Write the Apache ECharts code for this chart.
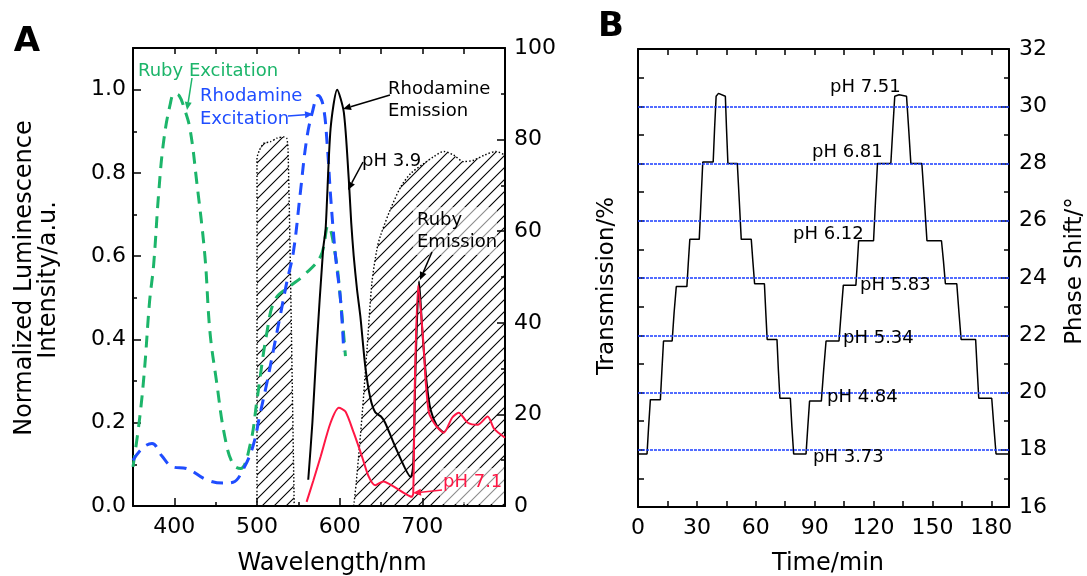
<!DOCTYPE html>
<html>
<head>
<meta charset="utf-8">
<title>Spectra and phase shift</title>
<script src="https://cdn.jsdelivr.net/npm/echarts@6/dist/echarts.min.js"></script>
<style>
  html, body { margin: 0; padding: 0; background: #fff; }
  #chart { width: 1087px; height: 576px; }
</style>
</head>
<body>
<div id="chart"></div>
<script>
// ---- panel A: spectra (left axis 0..1.1, right axis transmission 0..100) ----
var rubyExWl  = [350, 358, 364, 370, 375, 381, 387, 395, 400, 406, 412, 419, 427, 437, 443, 451, 461, 471, 480, 492, 500, 512, 522, 540, 556, 577, 586, 595, 601, 607];
var rubyExVal = [0.094, 0.21, 0.33, 0.49, 0.58, 0.75, 0.875, 0.965, 0.99, 0.985, 0.955, 0.905, 0.78, 0.6, 0.42, 0.3, 0.167, 0.1, 0.09, 0.15, 0.255, 0.417, 0.496, 0.528, 0.553, 0.6, 0.673, 0.6, 0.496, 0.36];

var rhoExWl  = [350, 362, 373, 385, 398, 415, 439, 459, 471, 483, 495, 504, 512, 520, 528, 536, 544, 552, 560, 567, 574, 580, 585, 589, 595, 601, 605];
var rhoExVal = [0.11, 0.14, 0.15, 0.12, 0.094, 0.09, 0.063, 0.055, 0.057, 0.087, 0.143, 0.224, 0.296, 0.376, 0.456, 0.537, 0.61, 0.745, 0.88, 0.946, 0.986, 0.962, 0.866, 0.745, 0.6, 0.496, 0.37];

var emAcidWl  = [562, 567, 572, 580, 583, 589, 597, 605, 611, 614, 617, 621, 625, 631, 637, 643, 650, 655, 670, 686, 689, 692, 696, 700, 705, 710, 718, 726];
var emAcidVal = [0.063, 0.2, 0.376, 0.617, 0.665, 0.906, 1.0, 0.946, 0.785, 0.68, 0.6, 0.52, 0.456, 0.335, 0.26, 0.225, 0.215, 0.2, 0.13, 0.07, 0.1, 0.35, 0.54, 0.42, 0.3, 0.231, 0.191, 0.176];

var emBaseWl  = [560, 568, 577, 589, 599, 607, 617, 627, 635, 643, 653, 665, 678, 687, 689, 691, 695, 699, 702, 704, 708, 714, 720, 726, 736, 744, 755, 767, 779, 787, 800];
var emBaseVal = [0.01, 0.06, 0.119, 0.2, 0.236, 0.227, 0.176, 0.119, 0.071, 0.05, 0.059, 0.047, 0.031, 0.022, 0.03, 0.3, 0.53, 0.45, 0.37, 0.3, 0.224, 0.2, 0.185, 0.176, 0.212, 0.224, 0.2, 0.195, 0.215, 0.185, 0.164];

var filter1Wl = [500, 500, 503, 508, 516, 524, 532, 536, 537.5, 540, 545];
var filter1T  = [0, 76, 77.7, 79.2, 79.5, 80.3, 80.6, 80.3, 78, 56, 0];

var filter2Wl = [617, 620, 627, 633, 639, 645, 649, 661, 674, 686, 702, 714, 726, 738, 750, 762, 775, 789, 800];
var filter2T  = [0, 5, 19.5, 34, 48.7, 56, 58.8, 64.6, 69.7, 72.6, 74.8, 76.3, 77.4, 76.6, 75.2, 75.5, 76.6, 77.4, 76.6];

// ---- panel B: phase shift steps over time ----
var phaseTime = [
  0, 4.6, 5.4, 6.3,  11.4, 12.2, 13.0,  17.4, 18.4, 19.5,  24.9, 25.6, 26.4,
  31.2, 32.1, 33.0,  38.3, 39.0, 39.8, 41.0,  44.5, 45.1, 45.8,  50.6, 51.6, 52.6,
  57.7, 58.5, 59.4,  64.4, 65.1, 65.8,  70.8, 71.5, 72.3,  77.6, 78.4, 79.3,
  85.6, 86.5, 87.4,  93.4, 94.6, 95.8,  102.4, 103.5, 104.6,  111.0, 111.7, 112.4,
  120.0, 121.0, 122.0,  128.8, 129.8, 130.8, 133.0,  136.8, 137.9, 139.0,
  144.6, 145.9, 147.2,  154.6, 155.6, 156.6,  162.4, 163.5, 164.6,
  172.0, 172.8, 173.6,  180.2, 181.3, 182.4,  189
];
var phaseValue = [
  17.85, 17.85, 18.8, 19.75,  19.75, 20.8, 21.8,  21.8, 22.8, 23.7,  23.7, 24.5, 25.35,
  25.35, 26.7, 28.05,  28.05, 29.2, 30.35, 30.45,  30.35, 29.2, 28.0,  28.0, 26.7, 25.35,
  25.35, 24.6, 23.8,  23.8, 22.8, 21.85,  21.85, 20.8, 19.8,  19.8, 18.8, 17.85,
  17.85, 18.8, 19.7,  19.7, 20.8, 21.8,  21.8, 22.8, 23.75,  23.75, 24.5, 25.3,
  25.3, 26.7, 28.0,  28.0, 29.2, 30.35, 30.4,  30.35, 29.2, 28.0,
  28.0, 26.7, 25.3,  25.3, 24.6, 23.8,  23.8, 22.8, 21.85,
  21.85, 20.8, 19.8,  19.8, 18.8, 17.85,  17.85
];
var phRefLines = [18, 20, 22, 24, 26, 28, 30];

// tick / label values
var wlLabels = [400, 500, 600, 700];
var wlMinor = [450, 550, 650, 750];
var wlTop = [400, 450, 500, 550, 600, 650, 700, 750];
var intMajor = [0, 0.2, 0.4, 0.6, 0.8, 1.0];
var intMinor = [0.1, 0.3, 0.5, 0.7, 0.9];
var timeLabels = [0, 30, 60, 90, 120, 150, 180];
var timeTicks = [15, 30, 45, 60, 75, 90, 105, 120, 135, 150, 165, 180];
var transTicks = [17, 18, 19, 20, 21, 22, 23, 24, 25, 26, 27, 28, 29, 30, 31];

var FONT = '"DejaVu Sans", sans-serif';
var GREEN = '#1cb56a', BLUE = '#1f4dff', RED = '#ff1744';

function pairs(xs, ys) {
  return xs.map(function (x, i) { return [x, ys[i]]; });
}

// diagonal hatching for the filter transmission areas
function hatch() {
  var s = 12;
  var c = document.createElement('canvas');
  c.width = s; c.height = s;
  var ctx = c.getContext('2d');
  ctx.strokeStyle = '#000';
  ctx.lineWidth = 1.1;
  ctx.beginPath();
  ctx.moveTo(0, s); ctx.lineTo(s, 0);
  ctx.moveTo(-s / 2, s / 2); ctx.lineTo(s / 2, -s / 2);
  ctx.moveTo(s / 2, s * 1.5); ctx.lineTo(s * 1.5, s / 2);
  ctx.stroke();
  return c;
}
var hatchImg = hatch();

function arrow(x1, y1, x2, y2, color) {
  var a = Math.atan2(y2 - y1, x2 - x1), L = 8, W = 3.5;
  var bx = x2 - L * Math.cos(a), by = y2 - L * Math.sin(a);
  var px = -Math.sin(a) * W, py = Math.cos(a) * W;
  return [
    { type: 'line', z: 20, shape: { x1: x1, y1: y1, x2: bx, y2: by }, style: { stroke: color, lineWidth: 1.5 } },
    { type: 'polygon', z: 20, shape: { points: [[x2, y2], [bx + px, by + py], [bx - px, by - py]] }, style: { fill: color } }
  ];
}

function txt(x, y, s, color, size, opt) {
  opt = opt || {};
  return {
    type: 'text', z: 21, x: x, y: y, rotation: opt.rot || 0,
    style: {
      text: s, fill: color, fontSize: size, fontFamily: FONT,
      fontWeight: opt.bold ? 'bold' : 'normal',
      align: opt.align || 'left', verticalAlign: 'middle'
    }
  };
}

var lineAx = { show: true, onZero: false, lineStyle: { color: '#000', width: 2 } };

function axis(extra) {
  var base = {
    type: 'value', splitLine: { show: false }, axisLine: lineAx,
    axisTick: { inside: true, length: 7, lineStyle: { color: '#000', width: 1.5 } },
    axisLabel: { show: false }
  };
  for (var k in extra) base[k] = extra[k];
  return base;
}

var myChart = echarts.init(document.getElementById('chart'));

var option = {
  animation: false,
  backgroundColor: '#fff',
  grid: [
    { left: 133, top: 48, width: 372, height: 458 },
    { left: 638, top: 49, width: 371, height: 458 }
  ],
  xAxis: [
    axis({ gridIndex: 0, position: 'bottom', min: 350, max: 800,
      axisTick: { inside: true, length: 8, customValues: wlLabels, lineStyle: { color: '#000', width: 1.5 } },
      axisLabel: { show: true, customValues: wlLabels, margin: 10, color: '#000', fontSize: 22, fontFamily: FONT } }),
    axis({ gridIndex: 0, position: 'bottom', min: 350, max: 800, axisLine: { show: false },
      axisTick: { inside: true, length: 4, customValues: wlMinor, lineStyle: { color: '#000', width: 1.5 } } }),
    axis({ gridIndex: 0, position: 'top', min: 350, max: 800,
      axisTick: { inside: true, length: 6, customValues: wlTop, lineStyle: { color: '#000', width: 1.5 } } }),
    axis({ gridIndex: 1, position: 'bottom', min: 0, max: 189,
      axisTick: { inside: true, length: 6, customValues: timeTicks, lineStyle: { color: '#000', width: 1.5 } },
      axisLabel: { show: true, customValues: timeLabels, margin: 10, color: '#000', fontSize: 22, fontFamily: FONT } }),
    axis({ gridIndex: 1, position: 'top', min: 0, max: 189,
      axisTick: { inside: true, length: 6, customValues: timeTicks, lineStyle: { color: '#000', width: 1.5 } } })
  ],
  yAxis: [
    axis({ gridIndex: 0, position: 'left', min: 0, max: 1.1,
      axisTick: { inside: true, length: 8, customValues: intMajor, lineStyle: { color: '#000', width: 1.5 } },
      axisLabel: { show: true, customValues: intMajor, margin: 7, color: '#000', fontSize: 22, fontFamily: FONT,
        formatter: function (v) { return v.toFixed(1); } } }),
    axis({ gridIndex: 0, position: 'left', min: 0, max: 1.1, axisLine: { show: false },
      axisTick: { inside: true, length: 4, customValues: intMinor, lineStyle: { color: '#000', width: 1.5 } } }),
    axis({ gridIndex: 0, position: 'right', min: 0, max: 100, interval: 20,
      axisTick: { inside: true, length: 8, lineStyle: { color: '#000', width: 1.5 } },
      minorTick: { show: true, splitNumber: 2, length: 4, lineStyle: { color: '#000', width: 1.5 } },
      axisLabel: { show: true, margin: 9, color: '#000', fontSize: 22, fontFamily: FONT } }),
    axis({ gridIndex: 1, position: 'left', min: 16, max: 32,
      axisTick: { inside: true, length: 6, customValues: transTicks, lineStyle: { color: '#000', width: 1.5 } } }),
    axis({ gridIndex: 1, position: 'right', min: 16, max: 32, interval: 2,
      axisTick: { inside: true, length: 8, lineStyle: { color: '#000', width: 1.5 } },
      minorTick: { show: true, splitNumber: 2, length: 5, lineStyle: { color: '#000', width: 1.5 } },
      axisLabel: { show: true, margin: 10, color: '#000', fontSize: 22, fontFamily: FONT } })
  ],
  series: [
    {
      name: 'filter 1', type: 'line', xAxisIndex: 0, yAxisIndex: 2, z: 1, smooth: 0.2,
      data: pairs(filter1Wl, filter1T), showSymbol: false, silent: true,
      lineStyle: { color: '#000', width: 1.4, type: [1.5, 2] },
      areaStyle: { color: { image: hatchImg, repeat: 'repeat' }, opacity: 1 }
    },
    {
      name: 'filter 2', type: 'line', xAxisIndex: 0, yAxisIndex: 2, z: 1, smooth: 0.3,
      data: pairs(filter2Wl, filter2T), showSymbol: false, silent: true,
      lineStyle: { color: '#000', width: 1.4, type: [1.5, 2] },
      areaStyle: { color: { image: hatchImg, repeat: 'repeat' }, opacity: 1 }
    },
    {
      name: 'Ruby Excitation', type: 'line', xAxisIndex: 0, yAxisIndex: 0, smooth: 0.4,
      data: pairs(rubyExWl, rubyExVal), showSymbol: false,
      lineStyle: { color: GREEN, width: 3, type: [12, 8] }
    },
    {
      name: 'Rhodamine Excitation', type: 'line', xAxisIndex: 0, yAxisIndex: 0, smooth: 0.4,
      data: pairs(rhoExWl, rhoExVal), showSymbol: false,
      lineStyle: { color: BLUE, width: 3, type: [12, 8] }
    },
    {
      name: 'pH 3.9', type: 'line', xAxisIndex: 0, yAxisIndex: 0, smooth: 0.25,
      data: pairs(emAcidWl, emAcidVal), showSymbol: false,
      lineStyle: { color: '#000', width: 2 }
    },
    {
      name: 'pH 7.1', type: 'line', xAxisIndex: 0, yAxisIndex: 0, smooth: 0.25,
      data: pairs(emBaseWl, emBaseVal), showSymbol: false,
      lineStyle: { color: RED, width: 2 }
    },
    {
      name: 'phase', type: 'line', xAxisIndex: 3, yAxisIndex: 4,
      data: pairs(phaseTime, phaseValue), showSymbol: false,
      lineStyle: { color: '#000', width: 1.5 },
      markLine: {
        silent: true, symbol: 'none', label: { show: false },
        lineStyle: { color: '#1a3cff', width: 1.5, type: [3, 1] },
        data: phRefLines.map(function (v) { return { yAxis: v }; })
      }
    }
  ],
  graphic: [].concat(
    [
      txt(27, 42, 'A', '#000', 34, { bold: true, align: 'center' }),
      txt(611, 27, 'B', '#000', 34, { bold: true, align: 'center' }),
      txt(25, 278, 'Normalized Luminescence', '#000', 24, { rot: Math.PI / 2, align: 'center' }),
      txt(49, 280, 'Intensity/a.u.', '#000', 24, { rot: Math.PI / 2, align: 'center' }),
      txt(332, 564, 'Wavelength/nm', '#000', 24, { align: 'center' }),
      txt(607, 286, 'Transmission/%', '#000', 23, { rot: Math.PI / 2, align: 'center' }),
      txt(1075, 271, 'Phase Shift/°', '#000', 23, { rot: Math.PI / 2, align: 'center' }),
      txt(828, 564, 'Time/min', '#000', 24, { align: 'center' }),
      { type: 'rect', z: 5, shape: { x: 413, y: 207, width: 84, height: 48 }, style: { fill: 'rgba(255,255,255,0.55)' } },
      { type: 'rect', z: 5, shape: { x: 440, y: 468, width: 64, height: 36 }, style: { fill: 'rgba(255,255,255,0.55)' } },
      txt(138, 71, 'Ruby Excitation', GREEN, 18),
      txt(200, 96, 'Rhodamine', BLUE, 18),
      txt(200, 119, 'Excitation', BLUE, 18),
      txt(388, 89, 'Rhodamine', '#000', 18),
      txt(388, 111, 'Emission', '#000', 18),
      txt(362, 161, 'pH 3.9', '#000', 18),
      txt(417, 220, 'Ruby', '#000', 18),
      txt(417, 242, 'Emission', '#000', 18),
      txt(443, 482, 'pH 7.1', RED, 18),
      txt(830, 87, 'pH 7.51', '#000', 18),
      txt(812, 152, 'pH 6.81', '#000', 18),
      txt(793, 234, 'pH 6.12', '#000', 18),
      txt(860, 285, 'pH 5.83', '#000', 18),
      txt(843, 338, 'pH 5.34', '#000', 18),
      txt(827, 397, 'pH 4.84', '#000', 18),
      txt(813, 457, 'pH 3.73', '#000', 18)
    ],
    arrow(192, 78, 187, 110, GREEN),
    arrow(288, 116, 313, 114, BLUE),
    arrow(390, 95, 343, 109, '#000'),
    arrow(363, 162, 348, 190, '#000'),
    arrow(432, 252, 420, 280, '#000'),
    arrow(442, 490, 413, 493, RED)
  )
};

myChart.setOption(option);
</script>
</body>
</html>
